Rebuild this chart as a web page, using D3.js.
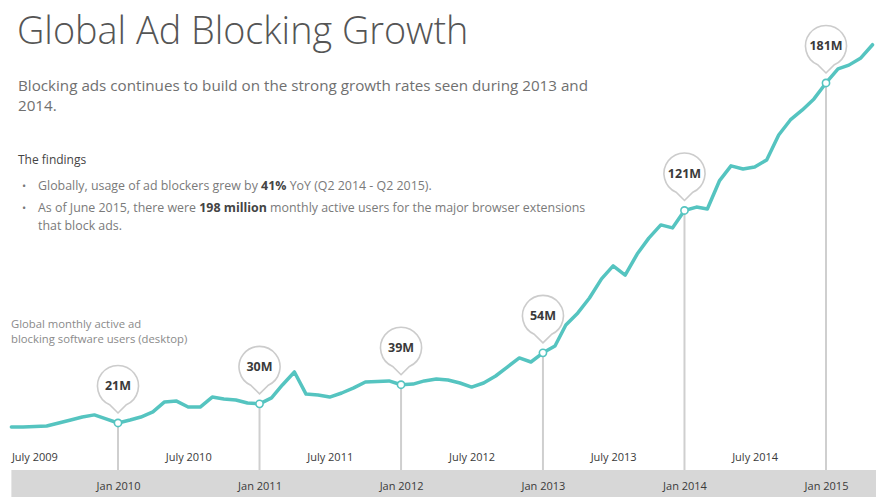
<!DOCTYPE html>
<html>
<head>
<meta charset="utf-8">
<script src="https://cdn.jsdelivr.net/npm/d3@7"></script>
<style>
  html, body { margin: 0; padding: 0; background: #fff; }
  svg { display: block; font-family: "Open Sans", "Noto Sans", sans-serif; }
</style>
</head>
<body>
<svg id="chart" width="876" height="497"></svg>
<script>
// Monthly active ad-blocking users (millions), one value per month starting April 2009
const firstMonth = [2009, 3];
const users = [
  19.1, 19.1, 19.3, 19.6, 21.0, 22.4, 23.8, 24.8, 22.9,
  21, 22.4, 23.8, 26.2, 30.9, 31.3, 28.5, 28.5, 33.2, 32.3, 31.8, 30.4,
  30, 32.8, 38.9, 45.0, 34.6, 34.2, 33.2, 35.1, 37.5, 40.3, 40.5, 40.8,
  39, 39.3, 40.8, 41.7, 41.2, 39.8, 37.9, 39.8, 43.1, 47.3, 51.6, 49.7,
  54, 57.2, 67.1, 72.8, 79.8, 88.8, 94.9, 90.6, 100.5, 108.0, 114.2, 112.8,
  121, 122.6, 121.7, 134.9, 142.0, 140.5, 141.5, 144.8, 156.5, 163.6, 168.3, 173.5,
  181, 187.6, 189.4, 192.8, 199
];

// Callout years (January of each) and axis tick labels
const calloutYears = [2010, 2011, 2012, 2013, 2014, 2015];
const julyTicks = ["July 2009", "July 2010", "July 2011", "July 2012", "July 2013", "July 2014"];
const janTicks = ["Jan 2010", "Jan 2011", "Jan 2012", "Jan 2013", "Jan 2014", "Jan 2015"];

const title = "Global Ad Blocking Growth";
const subtitleLines = [
  "Blocking ads continues to build on the strong growth rates seen during 2013 and",
  "2014."
];
const findingsHeading = "The findings";
const findings = [
  [["Globally, usage of ad blockers grew by ", false], ["41%", true], [" YoY (Q2 2014 - Q2 2015).", false]],
  [["As of June 2015, there were ", false], ["198 million", true], [" monthly active users for the major browser extensions", false]],
  [["that block ads.", false]]
];
const seriesLabel = ["Global monthly active ad", "blocking software users (desktop)"];

const W = 876, H = 497;
const teal = "#55c4c0";
const bandTop = 470;

const series = users.map((v, i) => ({ date: new Date(firstMonth[0], firstMonth[1] + i, 1), value: v }));
const parseJuly = d3.timeParse("%B %Y");
const parseJan = d3.timeParse("%b %Y");

const x = d3.scaleTime()
  .domain([new Date(2010, 0, 1), new Date(2015, 0, 1)])
  .range([118, 826]);
const y = d3.scaleLinear().domain([0, 200]).range([467.6, 42.6]);

const svg = d3.select("#chart");

// Header texts
svg.append("text").attr("x", 17).attr("y", 44)
  .attr("font-size", 37.8).attr("font-weight", 300).attr("fill", "#555")
  .text(title);

svg.selectAll("text.sub").data(subtitleLines).join("text")
  .attr("class", "sub").attr("x", 18).attr("y", (d, i) => 91 + i * 20)
  .attr("font-size", 15.2).attr("fill", "#707070").text(d => d);

svg.append("text").attr("x", 18).attr("y", 164)
  .attr("font-size", 12).attr("fill", "#444").text(findingsHeading);

const bulletY = [190, 212, 229.5];
findings.forEach((parts, i) => {
  if (i < 2) {
    svg.append("text").attr("x", 22).attr("y", bulletY[i])
      .attr("font-size", 11).attr("fill", "#777").text("•");
  }
  const t = svg.append("text").attr("x", 38).attr("y", bulletY[i])
    .attr("font-size", 12.4).attr("fill", "#7a7a7a");
  parts.forEach(([s, bold]) => {
    t.append("tspan").attr("font-weight", bold ? 700 : 400)
      .attr("fill", bold ? "#444" : "#7a7a7a").text(s);
  });
});

svg.selectAll("text.slabel").data(seriesLabel).join("text")
  .attr("class", "slabel").attr("x", 11).attr("y", (d, i) => 328 + i * 15)
  .attr("font-size", 11.3).attr("fill", "#8a8a8a").text(d => d);

// Gray date band
svg.append("rect").attr("x", x(series[0].date)).attr("y", bandTop)
  .attr("width", W - x(series[0].date)).attr("height", H - bandTop)
  .attr("fill", "#d7d7d7");

// Callout points
const callouts = calloutYears.map(yr => series.find(d => d.date.getFullYear() === yr && d.date.getMonth() === 0));

svg.selectAll("line.drop").data(callouts).join("line")
  .attr("class", "drop")
  .attr("x1", d => x(d.date)).attr("x2", d => x(d.date))
  .attr("y1", d => y(d.value)).attr("y2", bandTop)
  .attr("stroke", "#cfcfcf").attr("stroke-width", 2);

// Growth line
svg.append("path").datum(series)
  .attr("fill", "none").attr("stroke", teal).attr("stroke-width", 3.5)
  .attr("stroke-linejoin", "round").attr("stroke-linecap", "round")
  .attr("d", d3.line().x(d => x(d.date)).y(d => y(d.value)));

svg.selectAll("circle.pt").data(callouts).join("circle")
  .attr("class", "pt").attr("cx", d => x(d.date)).attr("cy", d => y(d.value))
  .attr("r", 3.6).attr("fill", "#fff").attr("stroke", teal).attr("stroke-width", 1.6);

// Balloon markers above the callout points
const R = 20.5, lift = 37, tipGap = 10, th = 24 * Math.PI / 180;
function balloon() {
  const cy = -lift;
  const px = R * Math.sin(th), py = cy + R * Math.cos(th);
  return `M0,${-tipGap} L${px},${py} A${R},${R} 0 1 0 ${-px},${py} Z`;
}
const pins = svg.selectAll("g.pin").data(callouts).join("g")
  .attr("class", "pin")
  .attr("transform", d => `translate(${x(d.date)},${y(d.value)})`);
pins.append("path").attr("d", balloon())
  .attr("fill", "#fff").attr("stroke", "#cccccc").attr("stroke-width", 1.6);
pins.append("text").attr("y", -lift).attr("dy", "0.35em")
  .attr("text-anchor", "middle").attr("font-size", 12.5).attr("font-weight", 700)
  .attr("fill", "#3a3a3a").text(d => `${Math.round(d.value)}M`);

// Date axes
const julyAxis = d3.axisBottom(x).tickValues(julyTicks.map(parseJuly))
  .tickFormat(d3.timeFormat("%B %Y")).tickSize(0);
const gJuly = svg.append("g").attr("transform", "translate(0,450)").call(julyAxis);
gJuly.select(".domain").remove();
gJuly.selectAll("text").attr("font-size", 11).attr("fill", "#3a3a3a")
  .attr("font-family", "Open Sans, sans-serif");
// keep the first label inside the plotted range
gJuly.selectAll(".tick").filter((d, i) => i === 0).select("text")
  .attr("text-anchor", "start").attr("x", x(series[0].date) - x(parseJuly(julyTicks[0])));

const janAxis = d3.axisBottom(x).tickValues(janTicks.map(parseJan))
  .tickFormat(d3.timeFormat("%b %Y")).tickSize(0);
const gJan = svg.append("g").attr("transform", "translate(0,479)").call(janAxis);
gJan.select(".domain").remove();
gJan.selectAll("text").attr("font-size", 11).attr("fill", "#3a3a3a")
  .attr("font-family", "Open Sans, sans-serif");
</script>
</body>
</html>
